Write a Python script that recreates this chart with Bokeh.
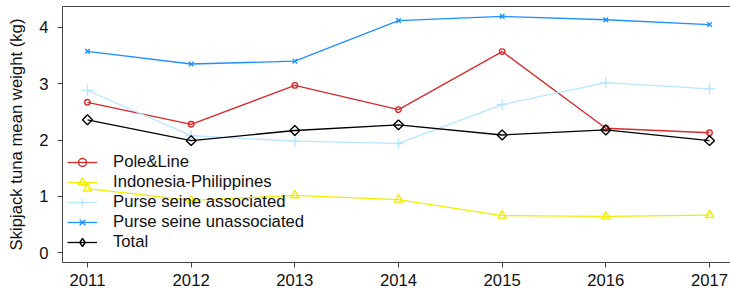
import math
from bokeh.plotting import figure
from bokeh.models import Range1d, FixedTicker, LinearAxis, Legend, LegendItem
from bokeh.embed import file_html
from bokeh.resources import INLINE

years = [2011, 2012, 2013, 2014, 2015, 2016, 2017]
pole_line = [2.67, 2.28, 2.97, 2.54, 3.57, 2.21, 2.13]
indo_phil = [1.14, 0.93, 1.02, 0.945, 0.66, 0.645, 0.67]
ps_assoc = [2.88, 2.08, 1.98, 1.94, 2.63, 3.02, 2.91]
ps_unassoc = [3.575, 3.35, 3.40, 4.12, 4.195, 4.135, 4.05]
total = [2.36, 1.99, 2.17, 2.27, 2.09, 2.18, 1.99]

series = [
    ("Pole&Line", pole_line, "#D62A2A", "circle", 5.5, 0.0),
    ("Indonesia-Philippines", indo_phil, "#EEEE00", "triangle", 8.5, 0.0),
    ("Purse seine associated", ps_assoc, "#B8E6FF", "cross", 11, 0.0),
    ("Purse seine unassociated", ps_unassoc, "#1E90FF", "x", 6.5, 0.0),
    ("Total", total, "#000000", "square", 7, math.pi / 4),
]

FONT = "Liberation Sans"
FS = "16.7px"

p = figure(width=730, height=288, output_backend="svg", toolbar_location=None,
           x_range=Range1d(2010.759, 2017.2026), y_range=Range1d(-0.172, 4.37),
           min_border_left=62, min_border_right=0, min_border_top=6, min_border_bottom=26)
p.outline_line_color = None
p.grid.visible = False
p.background_fill_color = "white"

for ax in [p.xaxis[0], p.yaxis[0]]:
    ax.axis_line_color = "#444444"
    ax.major_tick_line_color = "#444444"
    ax.major_tick_out = 5
    ax.major_tick_in = 0
    ax.minor_tick_line_color = None
    ax.major_label_text_font = FONT
    ax.major_label_text_font_size = FS
    ax.major_label_text_color = "#111111"

p.xaxis.ticker = FixedTicker(ticks=years)
p.xaxis.major_label_standoff = 6
p.xaxis.major_label_text_line_height = 0.1
p.yaxis.ticker = FixedTicker(ticks=[0, 1, 2, 3, 4])
p.yaxis.major_label_standoff = 9
p.yaxis.axis_label = "Skipjack tuna mean weight (kg)"
p.yaxis.axis_label_text_font = FONT
p.yaxis.axis_label_text_font_size = FS
p.yaxis.axis_label_text_font_style = "normal"
p.yaxis.axis_label_text_color = "#111111"
p.yaxis.axis_label_standoff = 10

top = LinearAxis(ticker=FixedTicker(ticks=[]), axis_line_color="#444444",
                 major_tick_line_color=None, minor_tick_line_color=None,
                 major_label_text_font_size="0px")
p.add_layout(top, "above")

items = []
for name, vals, color, marker, size, ang in series:
    r1 = p.line(years, vals, line_color=color, line_width=1.3)
    r2 = p.scatter(years, vals, marker=marker, size=size, angle=ang, line_color=color,
                   fill_color=None, line_width=1.4)
    if ang != 0.0:
        # legend swatch only (legend glyphs ignore angle); its one point lies off the frame
        r2 = p.scatter(x=[years[0]], y=[-50], marker="diamond", size=size * 1.45,
                       line_color=color, fill_color=None, line_width=1.4)
    items.append(LegendItem(label=name, renderers=[r1, r2]))

legend = Legend(items=items, location=(5, 10), padding=0, margin=0, spacing=0,
                glyph_width=30, glyph_height=20, label_height=20, label_standoff=16,
                border_line_color=None, background_fill_alpha=0,
                label_text_font=FONT, label_text_font_size=FS,
                label_text_color="#111111")
p.add_layout(legend, "center")

open("out.html", "w").write(file_html(p, INLINE))
